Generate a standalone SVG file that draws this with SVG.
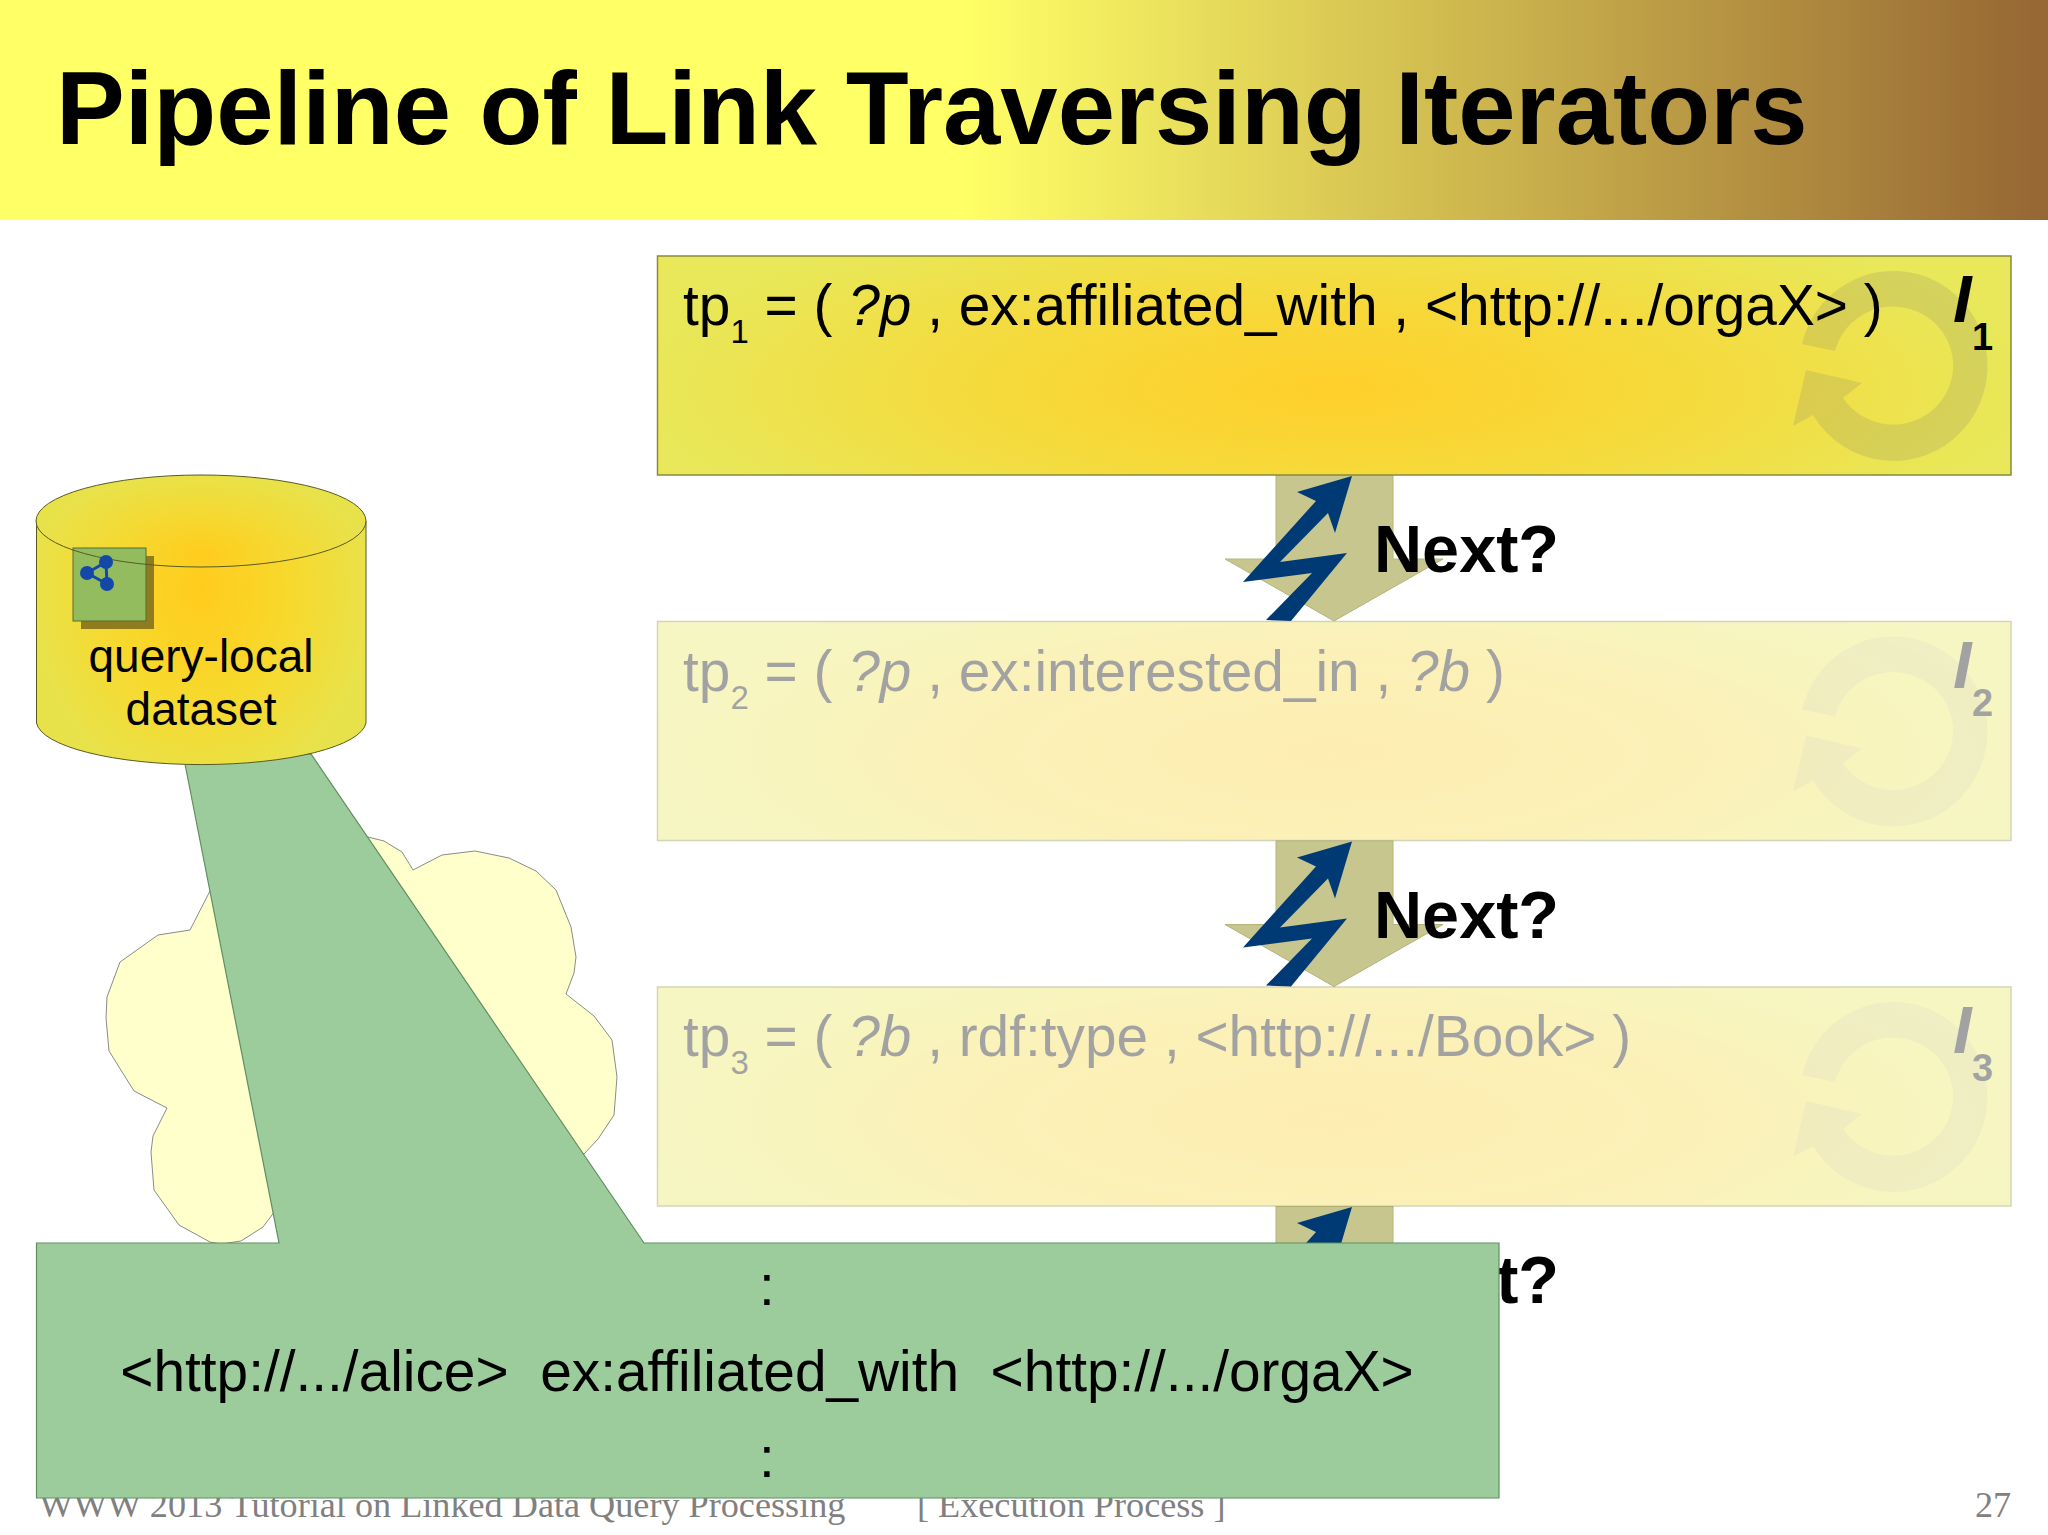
<svg xmlns="http://www.w3.org/2000/svg" width="2048" height="1535" viewBox="0 0 2048 1535">
<style>
text{font-family:"Liberation Sans",Arial,sans-serif;fill:#000;white-space:pre}
.tp{font-size:56.8px}
.sub{font-size:33px}
.it{font-style:italic}
.i{font-size:67px;font-weight:bold;font-style:italic}
.in{font-size:38px;font-weight:bold}
.next{font-size:66.6px;font-weight:bold}
.foot{font-family:"Liberation Serif","Times New Roman",serif;font-size:36.2px;fill:#808080}
.box{fill:url(#boxGrad);stroke:#8a8a3c;stroke-width:1.5}
.loop{fill:#808070;fill-opacity:.2}
</style>
<defs>
<linearGradient id="titleGrad" x1="0" y1="0" x2="1" y2="0">
<stop offset="0" stop-color="#ffff66"/><stop offset=".47" stop-color="#ffff66"/><stop offset="1" stop-color="#966633"/>
</linearGradient>
<radialGradient id="boxGrad" cx=".5" cy=".6" r=".52" fx=".5" fy=".6" gradientTransform="translate(.5 .6) scale(1 1.7) translate(-.5 -.6)">
<stop offset="0" stop-color="#ffcf2a"/><stop offset=".5" stop-color="#f5da3c"/><stop offset="1" stop-color="#e8e85a"/>
</radialGradient>
<radialGradient id="cylGrad" gradientUnits="userSpaceOnUse" cx="201" cy="590" r="170" gradientTransform="translate(0 590) scale(1 1.2) translate(0 -590)">
<stop offset="0" stop-color="#ffcc1c"/><stop offset=".55" stop-color="#f7d92e"/><stop offset="1" stop-color="#e8e24a"/>
</radialGradient>
<radialGradient id="topGrad" gradientUnits="userSpaceOnUse" cx="201" cy="555" r="165" gradientTransform="translate(0 555) scale(1 .5) translate(0 -555)">
<stop offset="0" stop-color="#ffcc1c"/><stop offset=".5" stop-color="#f5d932"/><stop offset="1" stop-color="#e8e24a"/>
</radialGradient>
<g id="arrow">
<polygon points="1276,475 1393,475 1393,559 1443,559 1334,621 1225,559 1276,559" fill="#c6c68e" stroke="#b4b47c" stroke-width="1"/>
<polygon points="1352,476 1297,492 1316,501 1243,582 1312,573 1266,620 1291,621 1347,553 1280,562 1328,513 1335,533" fill="#003a75"/>
<text class="next" x="1374" y="572">Next?</text>
</g>
<path id="loop" class="loop" d="M1802 344 A94 95 0 1 1 1813 415 L1793 426 L1806 370 L1862 383 L1843 398 A60 59 0 1 0 1835 351 Z"/>
</defs>
<rect width="2048" height="1535" fill="#fff"/>
<rect id="titlebar" width="2048" height="220" fill="url(#titleGrad)"/>
<text x="56" y="144" font-size="103" font-weight="bold">Pipeline of Link Traversing Iterators</text>
<g id="footer">
<text class="foot" x="39" y="1517">WWW 2013 Tutorial on Linked Data Query Processing</text>
<text class="foot" x="917" y="1517">[ Execution Process ]</text>
<text class="foot" x="1975" y="1517">27</text>
</g>
<g id="cloud">
<polygon fill="#ffffcc" stroke="#8a8a8a" stroke-width="1" points="210,891 190,930 158,935 120,962 107,997 106,1018 109,1051 134,1091 167,1108 153,1136 151,1152 154,1190 179,1225 210,1242 221,1244 241,1241 263,1227 275,1211 368,837 384,841 402,852 413,870 442,855 475,851 509,858 536,871 556,890 571,927 576,957 574,973 566,994 594,1016 612,1040 617,1077 614,1115 598,1139 584,1154"/>
</g>
<g id="connectors">
<use href="#arrow"/>
<use href="#arrow" y="365.5"/>
<use href="#arrow" y="731"/>
</g>
<g id="iterator1">
<rect class="box" x="657.5" y="256" width="1353.5" height="219"/>
<use href="#loop"/>
<text class="tp" x="683" y="325">tp<tspan class="sub" dy="18">1</tspan><tspan dy="-18"> = ( </tspan><tspan class="it">?p</tspan> , ex:affiliated_with , &lt;http://.../orgaX&gt; )</text>
<text class="i" x="1953" y="322">I</text><text class="in" x="1972" y="350">1</text>
</g>
<g id="iterator2">
<rect x="657.5" y="621.5" width="1353.5" height="219" fill="#fff"/>
<g opacity=".36">
<rect class="box" x="657.5" y="621.5" width="1353.5" height="219"/>
<use href="#loop" y="365.5"/>
<text class="tp" x="683" y="690.5">tp<tspan class="sub" dy="18">2</tspan><tspan dy="-18"> = ( </tspan><tspan class="it">?p</tspan> , ex:interested_in , <tspan class="it">?b</tspan> )</text>
<text class="i" x="1953" y="687.5">I</text><text class="in" x="1972" y="715.5">2</text>
</g>
</g>
<g id="iterator3">
<rect x="657.5" y="987" width="1353.5" height="219" fill="#fff"/>
<g opacity=".36">
<rect class="box" x="657.5" y="987" width="1353.5" height="219"/>
<use href="#loop" y="731"/>
<text class="tp" x="683" y="1056">tp<tspan class="sub" dy="18">3</tspan><tspan dy="-18"> = ( </tspan><tspan class="it">?b</tspan> , rdf:type , &lt;http://.../Book&gt; )</text>
<text class="i" x="1953" y="1053">I</text><text class="in" x="1972" y="1081">3</text>
</g>
</g>
<g id="callout">
<polygon fill="#9ccc9c" stroke="#5f8f5f" stroke-width="1.2" points="185,764 279,1243 36.5,1243 36.5,1498 1499,1498 1499,1243 644,1243 311,754"/>
<text class="tp" x="767" y="1305" text-anchor="middle">:</text>
<text class="tp" x="767" y="1391" text-anchor="middle">&lt;http://.../alice&gt;  ex:affiliated_with  &lt;http://.../orgaX&gt;</text>
<text class="tp" x="767" y="1477" text-anchor="middle">:</text>
</g>
<g id="dataset">
<path d="M36.5 521 V723 A165 44 0 0 0 366 723 V521 Z" fill="url(#cylGrad)" stroke="#5a5a20" stroke-width="1"/>
<ellipse cx="201" cy="521" rx="165" ry="46" fill="url(#topGrad)"/>
<rect x="81" y="556" width="73" height="73" fill="#8f7c1e"/>
<rect x="73" y="548" width="73" height="73" fill="#93bc5e" stroke="#5a6a30" stroke-width="1"/>
<ellipse cx="201" cy="521" rx="165" ry="46" fill="none" stroke="#5a5a20" stroke-width="1"/>
<g stroke="#1448a8" stroke-width="3"><line x1="87" y1="573" x2="106" y2="562"/><line x1="106" y1="562" x2="107" y2="584"/><line x1="87" y1="573" x2="107" y2="584"/></g>
<g fill="#1448a8"><circle cx="87" cy="573" r="7"/><circle cx="106" cy="562" r="7"/><circle cx="107" cy="584" r="7"/></g>
<text x="201" y="672" font-size="46" text-anchor="middle">query-local</text>
<text x="201" y="725" font-size="46" text-anchor="middle">dataset</text>
</g>
</svg>
